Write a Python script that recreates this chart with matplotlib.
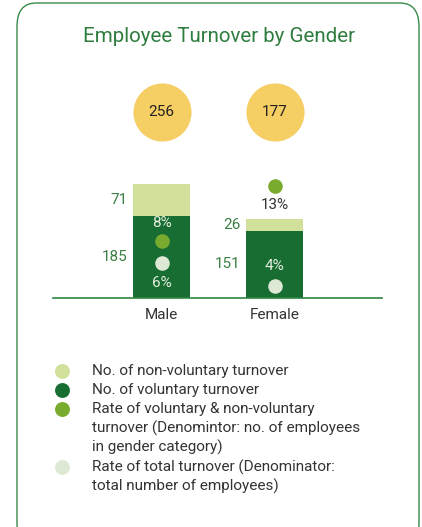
import matplotlib.pyplot as plt
from matplotlib.patches import FancyBboxPatch

plt.rcParams['font.family'] = ['Roboto', 'DejaVu Sans']

# -------------------------
# Data
# -------------------------
genders = ["Male", "Female"]
voluntary = [185, 151]
non_voluntary = [71, 26]
totals = [256, 177]
rate_in_group = [8, 13]      # % of employees in gender category
rate_of_total = [6, 4]       # % of total number of employees

legend_labels = [
    ["No. of non-voluntary turnover"],
    ["No. of voluntary turnover"],
    ["Rate of voluntary & non-voluntary",
     "turnover (Denomintor: no. of employees",
     "in gender category)"],
    ["Rate of total turnover (Denominator:",
     "total number of employees)"],
]

# -------------------------
# Style
# -------------------------
LIGHT = "#d1e09b"
DARK = "#176d32"
MID = "#79ab2e"
PALE = "#dde9d4"
YELLOW = "#f5ce64"
TITLE_GREEN = "#2f7d3f"
LABEL_GREEN = "#3b7f43"
TEXT = "#333333"
FS = 11

W, H = 422, 527
fig = plt.figure(figsize=(W / 100, H / 100), dpi=100)

# rounded card border
card = FancyBboxPatch((17 / W, -20 / H), 402 / W, (H - 3 + 20) / H,
                      boxstyle="round,pad=0,rounding_size=0.045",
                      transform=fig.transFigure, fill=False,
                      edgecolor="#3a8a4a", linewidth=1.0)
fig.patches.append(card)

fig.text(219 / W, 1 - 37 / H, "Employee Turnover by Gender",
         ha="center", va="center", fontsize=14.8, color=TITLE_GREEN)

# -------------------------
# Bars
# -------------------------
ax_left, ax_right = 53, 382
ax_bottom, ax_top = 298, 80
ax = fig.add_axes([ax_left / W, 1 - ax_bottom / H,
                   (ax_right - ax_left) / W, (ax_bottom - ax_top) / H])

x = [0, 1]
bar_w = 0.5
ax.bar(x, voluntary, width=bar_w, color=DARK, zorder=2)
ax.bar(x, non_voluntary, width=bar_w, bottom=voluntary, color=LIGHT, zorder=2)

ax.set_xlim(-0.96, 1.95)
ax.set_ylim(0, 218 / (114 / 256))

for s in ["top", "right", "left"]:
    ax.spines[s].set_visible(False)
ax.spines["bottom"].set_color("#2e8540")
ax.spines["bottom"].set_linewidth(1.2)
ax.set_yticks([])
ax.set_xticks(x)
ax.set_xticklabels(genders, fontsize=FS, color=TEXT)
ax.tick_params(axis="x", length=0, pad=7)

# segment values on the left of each bar
for i in x:
    for bottom, val in [(0, voluntary[i]), (voluntary[i], non_voluntary[i])]:
        ax.annotate(str(val), (i - bar_w / 2, bottom + val / 2),
                    xytext=(-4, 0), textcoords="offset points",
                    ha="right", va="center", fontsize=FS, color=LABEL_GREEN)

# total circles
trans = ax.get_xaxis_transform()
circle_y = (ax_bottom - 112) / (ax_bottom - ax_top)
ax.scatter(x, [circle_y] * 2, s=1750, color=YELLOW, transform=trans,
           clip_on=False, zorder=3, linewidths=0)
for i in x:
    ax.text(i, circle_y, str(totals[i]), transform=trans, ha="center",
            va="center", fontsize=FS, color="#222222", zorder=4)

# -------------------------
# Rate dots (own scale)
# -------------------------
ax2 = ax.twinx()
ax2.set_ylim(2.89, 2.89 + 218 / 11.1)
ax2.axis("off")

ax2.scatter(x, rate_in_group, s=110, color=MID, zorder=5, linewidths=0)
ax2.scatter(x, rate_of_total, s=110, color=PALE, zorder=5, linewidths=0)

# label offsets: (in-group label dy, total label dy) in points
offsets = [(13.5, -14), (-14, 14)]
group_colors = ["#e8efe0", TEXT]
for i in x:
    dy1, dy2 = offsets[i]
    ax2.annotate(f"{rate_in_group[i]}%", (i, rate_in_group[i]),
                 xytext=(0, dy1), textcoords="offset points",
                 ha="center", va="center", fontsize=FS,
                 color=group_colors[i], zorder=6)
    ax2.annotate(f"{rate_of_total[i]}%", (i, rate_of_total[i]),
                 xytext=(0, dy2), textcoords="offset points",
                 ha="center", va="center", fontsize=FS,
                 color="#e8efe0", zorder=6)

# -------------------------
# Legend
# -------------------------
lax = fig.add_axes([0, 0, 1, 1], zorder=-1)
lax.set_xlim(0, W)
lax.set_ylim(H, 0)
lax.axis("off")

legend_colors = [LIGHT, DARK, MID, PALE]
line_y = 371
step = 19.2
for color, lines in zip(legend_colors, legend_labels):
    lax.scatter([62], [line_y], s=115, color=color, linewidths=0)
    for ln in lines:
        lax.text(92, line_y, ln, ha="left", va="center",
                 fontsize=FS, color=TEXT)
        line_y += step

fig.savefig("out.png", dpi=100)
